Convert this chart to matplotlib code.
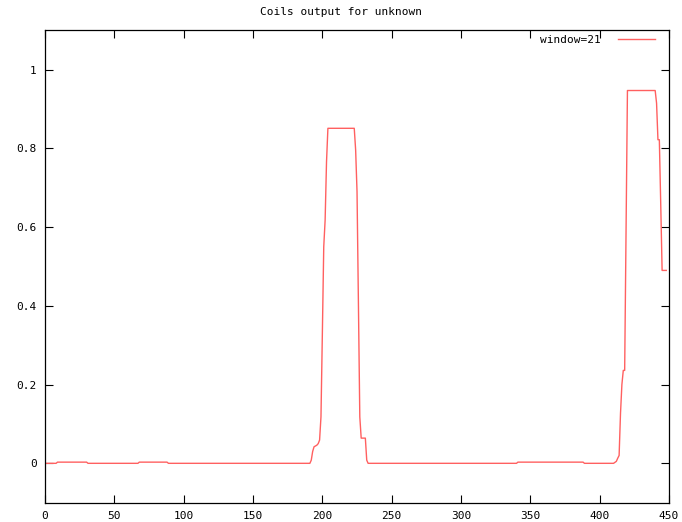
import matplotlib
matplotlib.use("Agg")
import matplotlib.pyplot as plt

# breakpoints (x = sample index, y = coil output)
xs = [0, 8, 9, 30, 31, 67, 68, 88, 89,
      191, 192, 193, 194, 196, 197, 198, 199, 200, 201, 202, 203, 204,
      223, 224, 225, 226, 227, 228, 231, 232, 233,
      340, 341, 388, 389,
      410, 412, 413, 414, 415, 416, 417, 418, 419, 420,
      440, 441, 442, 443, 444, 445, 448]
ys = [0, 0, 0.003, 0.003, 0, 0, 0.003, 0.003, 0,
      0, 0.008, 0.03, 0.042, 0.046, 0.05, 0.059, 0.118, 0.33, 0.55, 0.618, 0.766, 0.851,
      0.851, 0.796, 0.69, 0.407, 0.118, 0.064, 0.064, 0.008, 0,
      0, 0.003, 0.003, 0,
      0, 0.005, 0.013, 0.02, 0.127, 0.2, 0.236, 0.236, 0.59, 0.947,
      0.947, 0.915, 0.822, 0.822, 0.66, 0.49, 0.49]

xticks = [0, 50, 100, 150, 200, 250, 300, 350, 400, 450]
yticks = [0, 0.2, 0.4, 0.6, 0.8, 1]
ylabels = ["0", "0.2", "0.4", "0.6", "0.8", "1"]

plt.rcParams["font.family"] = "DejaVu Sans Mono"
plt.rcParams["font.size"] = 8

fig = plt.figure(figsize=(6.82, 5.22), dpi=100)
ax = fig.add_axes([0.066, 0.037, 0.915, 0.905])

ax.plot(xs, ys, color="#ff6060", lw=1.0, label="window=21")

ax.set_xlim(0, 450)
ax.set_ylim(-0.1, 1.1)
ax.set_xticks(xticks)
ax.set_xticklabels([str(t) for t in xticks])
ax.set_yticks(yticks)
ax.set_yticklabels(ylabels)
ax.tick_params(direction="in", length=6, width=0.8, top=True, right=True, pad=6)
for s in ax.spines.values():
    s.set_linewidth(0.9)

fig.text(0.5, 0.977, "Coils output for unknown", ha="center", va="center")

ax.legend(loc="upper right", bbox_to_anchor=(0.978, 0.99), frameon=False,
          markerfirst=False, handlelength=3.4, handletextpad=1.5,
          borderaxespad=0, borderpad=0)

fig.savefig("out.png", dpi=100)
